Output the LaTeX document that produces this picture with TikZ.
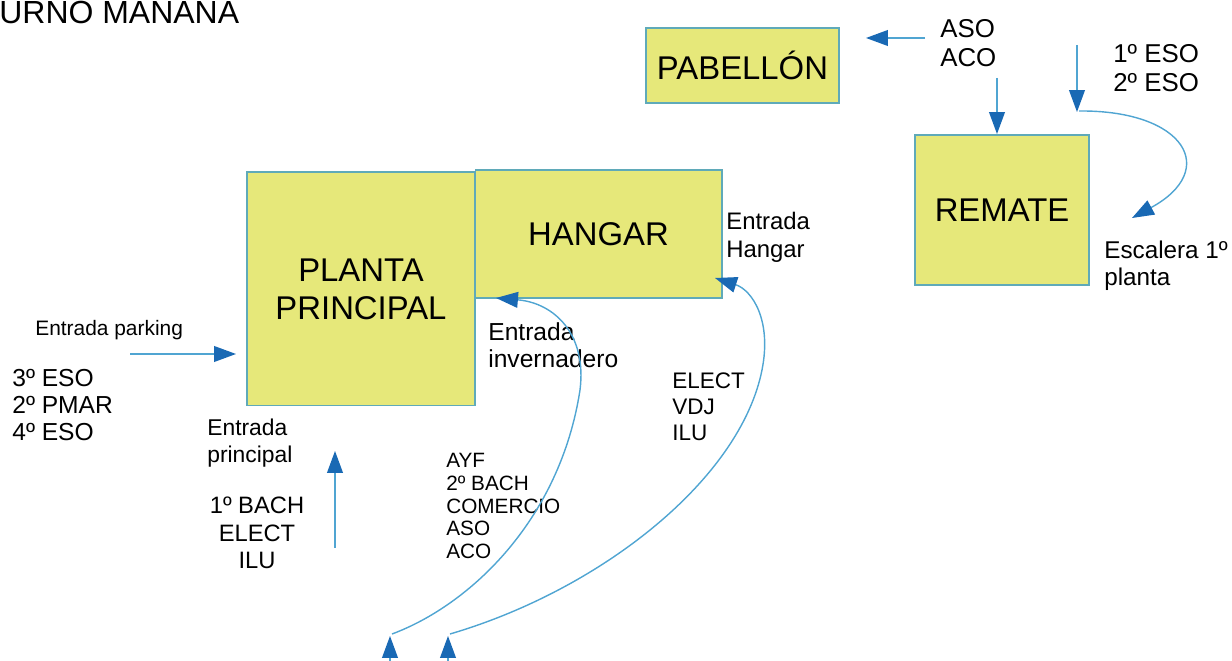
\documentclass[tikz,border=0pt]{standalone}
\usepackage{fontspec}
\setmainfont{Liberation Sans}
\usetikzlibrary{arrows.meta}
\definecolor{bldgfill}{RGB}{230,232,122}
\definecolor{bldgedge}{RGB}{95,170,185}
\definecolor{linkblue}{RGB}{80,165,210}
\definecolor{tipblue}{RGB}{25,105,180}

\begin{document}
\begin{tikzpicture}[
  x=0.02cm, y=-0.02cm,
  bldg/.style={
    draw=bldgedge, fill=bldgfill, line width=0.6pt,
    align=center, font=\fontsize{18.7}{21.5}\selectfont
  },
  lbl/.style={inner sep=0pt, anchor=west, align=left},
  mid/.style={lbl, font=\fontsize{14.7}{16.4}\selectfont},
  sml/.style={lbl, font=\fontsize{11.8}{12.9}\selectfont},
  flow/.style={
    draw=linkblue, line width=0.8pt,
    -{Triangle[length=12.5pt, width=9pt, color=tipblue]}
  }
]
  \useasboundingbox (0,0) rectangle (1232,661);
  % buildings
  \node[bldg, minimum width=3.86cm, minimum height=1.5cm] (pab) at (742.5,65.5) {PABELLÓN};
  \node[bldg, minimum width=3.48cm, minimum height=3cm] (rem) at (1002,210) {REMATE};
  \node[bldg, minimum width=4.56cm, minimum height=4.68cm] (pp) at (361,289) {PLANTA\\PRINCIPAL};
  \node[bldg, minimum width=4.94cm, minimum height=2.56cm] (hang) at (598.5,234) {HANGAR};
  % labels
  \node[lbl, font=\fontsize{18.2}{20}\selectfont] (title) at (-1,13) {URNO MANANA};
  \node[mid] (asoaco) at (940,43) {ASO\\ACO};
  \node[mid] (eso12) at (1113,68) {1º ESO\\2º ESO};
  \node[mid, font=\fontsize{13.6}{15.9}\selectfont] (ehang) at (726,237) {Entrada\\Hangar};
  \node[mid, font=\fontsize{13.8}{15.5}\selectfont] (escal) at (1104,266) {Escalera 1º\\planta};
  \node[mid, font=\fontsize{14}{15.5}\selectfont] (einv) at (488,345) {Entrada\\invernadero};
  \node[mid, font=\fontsize{12.8}{14.7}\selectfont] (elect) at (672,407) {ELECT\\VDJ\\ILU};
  \node[sml] (ayf) at (446,506) {AYF\\2º BACH\\COMERCIO\\ASO\\ACO};
  \node[sml, font=\fontsize{11.9}{13}\selectfont] (epark) at (35,330) {Entrada parking};
  \node[mid, font=\fontsize{14}{15.6}\selectfont] (eso34) at (12,405) {3º ESO\\2º PMAR\\4º ESO};
  \node[mid, font=\fontsize{13}{15.3}\selectfont] (eprin) at (207,443) {Entrada\\principal};
  \node[mid, anchor=center, align=center, font=\fontsize{13.5}{15.6}\selectfont] (bach) at (257,533) {1º BACH\\ELECT\\ILU};
  % arrow ends
  \coordinate (a1) at (925,38);   \coordinate (b1) at (866,38);
  \coordinate (a2) at (997,78);   \coordinate (b2) at (997,134);
  \coordinate (a3) at (1077,45);  \coordinate (b3) at (1077,112);
  \coordinate (a4) at (130,354);  \coordinate (b4) at (236,354);
  \coordinate (a5) at (335,548);  \coordinate (b5) at (335,451);
  \coordinate (a6) at (390,664);  \coordinate (b6) at (390,636);
  \coordinate (a7) at (448,664);  \coordinate (b7) at (448,636);
  \coordinate (c1) at (1079,111); \coordinate (d1) at (1132,218);
  \coordinate (c2) at (392,634);  \coordinate (d2) at (496,298);
  \coordinate (c3) at (450,634);  \coordinate (d3) at (715,278);
  \foreach \a/\b in {a1/b1,a2/b2,a3/b3,a4/b4,a5/b5,a6/b6,a7/b7} {
    \draw[flow] (\a) -- (\b);
  }
  \draw[flow] (c1) .. controls (1185,110) and (1220,170) .. (d1);
  \draw[flow] (c2) .. controls (470,605) and (560,520) .. (580,390)
    .. controls (587,335) and (555,303) .. (d2);
  \draw[flow] (c3) .. controls (600,590) and (740,480) .. (762,370)
    .. controls (772,320) and (752,290) .. (d3);
\end{tikzpicture}
\end{document}
